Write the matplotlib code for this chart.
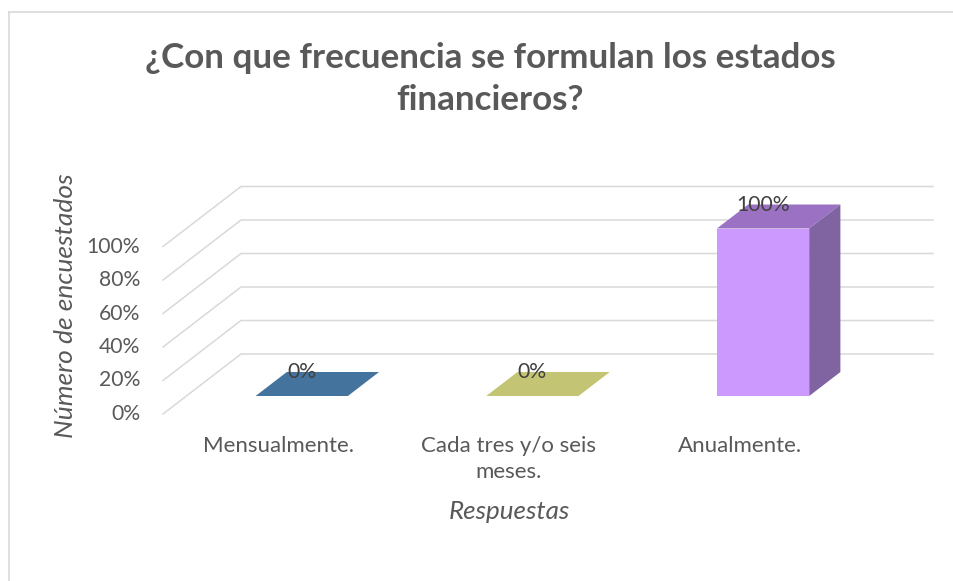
import matplotlib
matplotlib.use("Agg")
import matplotlib.pyplot as plt
from matplotlib.patches import Polygon
from matplotlib.lines import Line2D

# ---- data ----
categories = ["Mensualmente.", "Cada tres y/o seis\nmeses.", "Anualmente."]
values = [0.0, 0.0, 1.0]
value_labels = ["0%", "0%", "100%"]
tick_values = [0.0, 0.2, 0.4, 0.6, 0.8, 1.0]
tick_labels = ["0%", "20%", "40%", "60%", "80%", "100%"]
title = "¿Con que frecuencia se formulan los estados\nfinancieros?"
xlabel = "Respuestas"
ylabel = "Número de encuestados"

front_colors = ["#44739E", "#C3C474", "#CC99FF"]
top_colors = ["#44739E", "#C3C474", "#9B72C3"]
side_colors = ["#345A7E", "#9C9D55", "#8064A2"]

FONT = "Lato"
TXT = "#595959"
GRID = "#D9D9D9"

W, H = 954, 581
fig = plt.figure(figsize=(W / 100, H / 100), dpi=100)
fig.patch.set_facecolor("white")

# axes = front plane of the bars
ax_left, ax_right = 186.4, 878.4
ax_bottom_top, ax_top_top = 396.0, 228.5   # pixel rows from top
ax = fig.add_axes([ax_left / W, (H - ax_bottom_top) / H,
                   (ax_right - ax_left) / W, (ax_bottom_top - ax_top_top) / H])
ax.set_xlim(-0.5, 2.5)
ax.set_ylim(0, 1)
ax.axis("off")

PX_X = (ax_right - ax_left) / 3.0
PX_Y = ax_bottom_top - ax_top_top
DX, DY = 78.0, 60.0         # full depth offsets in pixels
D_BAR0, D_BAR1 = 0.3, 0.7   # bar depth range


def proj(x, y, d):
    return (x + (d - D_BAR0) * DX / PX_X, y + (d - D_BAR0) * DY / PX_Y)


# ---- gridlines (back wall + side wall) ----
xmin, xmax = ax.get_xlim()
for v in tick_values:
    p0 = proj(xmin, v, 0.0)
    p1 = proj(xmin, v, 1.0)
    p2 = proj(xmax, v, 1.0)
    ax.add_line(Line2D([p0[0], p1[0], p2[0]], [p0[1], p1[1], p2[1]],
                       color=GRID, lw=1.1, clip_on=False, zorder=1,
                       solid_joinstyle="miter"))

# ---- tick labels ----
for v, lab in zip(tick_values, tick_labels):
    p0 = proj(xmin, v, 0.0)
    ax.annotate(lab, xy=p0, xytext=(-16.5, 0), textcoords="offset points",
                ha="right", va="center", fontsize=15.2, color=TXT,
                family=FONT, annotation_clip=False)

# ---- bars ----
bw = 0.4
xs = list(range(len(categories)))
ax.bar(xs, values, width=bw, color=front_colors, linewidth=0, zorder=3,
       clip_on=False)
for i, v in enumerate(values):
    x0, x1 = i - bw / 2, i + bw / 2
    top = [proj(x0, v, D_BAR0), proj(x1, v, D_BAR0),
           proj(x1, v, D_BAR1), proj(x0, v, D_BAR1)]
    ax.add_patch(Polygon(top, closed=True, facecolor=top_colors[i],
                         edgecolor="none", zorder=3, clip_on=False))
    if v > 0:
        side = [proj(x1, 0, D_BAR0), proj(x1, v, D_BAR0),
                proj(x1, v, D_BAR1), proj(x1, 0, D_BAR1)]
        ax.add_patch(Polygon(side, closed=True, facecolor=side_colors[i],
                             edgecolor="none", zorder=3, clip_on=False))
    # data label: centred on bar, at back-top edge
    ly = proj(i, v, D_BAR1)[1]
    ax.text(i, ly, value_labels[i], ha="center", va="center", fontsize=15.2,
            color="#404040", family=FONT, zorder=5, clip_on=False)

# ---- category labels ----
for i, cat in enumerate(categories):
    p = proj(i, 0, 0.0)
    ax.annotate(cat, xy=p, xytext=(0, -16), textcoords="offset points",
                ha="center", va="top", fontsize=16, color=TXT, family=FONT,
                linespacing=1.37, annotation_clip=False)

# ---- axis titles ----
pl = proj(xmin, 0, 0.0)
pr = proj(xmax, 0, 0.0)
ax.annotate(xlabel, xy=((pl[0] + pr[0]) / 2, pl[1]), xytext=(0, -70),
            textcoords="offset points", ha="center", va="center",
            fontsize=18.7, style="italic", color=TXT, family=FONT,
            annotation_clip=False)
fig.text(66 / W, 1 - 306 / H, ylabel, rotation=90, ha="center", va="center",
         fontsize=19, style="italic", color=TXT, family=FONT)

# ---- title ----
fig.text(490 / W, 1 - 79 / H, title, ha="center", va="center", fontsize=25.2,
         fontweight="bold", color=TXT, family=FONT, linespacing=1.38)

# ---- chart frame (left and top edges visible) ----
fig.add_artist(Line2D([9.5 / W, 9.5 / W], [0, 1 - 12 / H],
                      transform=fig.transFigure, color=GRID, lw=1.2))
fig.add_artist(Line2D([9.5 / W, 1], [1 - 12 / H, 1 - 12 / H],
                      transform=fig.transFigure, color=GRID, lw=1.2))

fig.savefig("out.png", dpi=100, facecolor="white")
